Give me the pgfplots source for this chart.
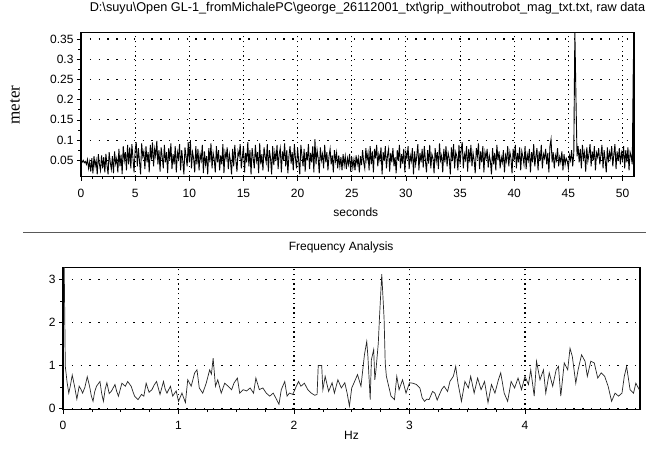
\documentclass[border=0pt]{standalone}
\usepackage{pgfplots}
\pgfplotsset{compat=1.18}
\usepackage{fontspec}
\setmainfont{Liberation Sans}
\newfontfamily\serifface{Liberation Serif}
\begin{document}
\begin{tikzpicture}
\path[use as bounding box] (0pt,0pt) rectangle (648pt,456pt);
\draw[gray!70!black, line width=0.8pt] (23pt,224pt) -- (646pt,224pt);
\pgfplotsset{
  every axis/.append style={
    scale only axis,
    axis line style={line width=1.2pt, black},
    tick align=outside, tick pos=left,
    major tick length=4pt, minor tick length=2.5pt,
    every tick/.style={black, line width=0.6pt},
    grid=major,
    x grid style={black, line width=1.1pt, dash pattern=on 1.3pt off 3.5pt},
    y grid style={black, line width=1.1pt, dash pattern=on 1.3pt off 7.5pt},
    /pgf/number format/assume math mode=true,
    tick label style={font=\fontsize{12pt}{14pt}\selectfont},
    every axis x label/.append style={font=\fontsize{12pt}{14pt}\selectfont},
  }
}
% ---------- top axis ----------
\begin{axis}[
  at={(81pt,279.3pt)}, anchor=south west,
  width=553pt, height=144.4pt,
  xmin=0, xmax=51.06, ymin=0.0094, ymax=0.3666,
  xtick={0,5,...,50}, minor x tick num=4,
  ytick={0.05,0.1,0.15,0.2,0.25,0.3,0.35}, minor y tick num=1,
  yticklabels={0.05,0.1,0.15,0.2,0.25,0.3,0.35},
  xticklabel style={yshift=-5pt},
  xlabel={seconds},
  xlabel style={at={(axis description cs:0.497,-0.244)}, anchor=center},
  title={D:\textbackslash suyu\textbackslash Open GL-1\_fromMichalePC\textbackslash george\_26112001\_txt\textbackslash grip\_withoutrobot\_mag\_txt.txt, raw data},
  title style={at={(axis description cs:0.518,1.127)}, anchor=center, font=\fontsize{12.7pt}{14pt}\selectfont},
]
\addplot[black, line width=0.9pt] coordinates {
(0.0,0.048)(0.1,0.045)(0.2,0.050)(0.3,0.044)(0.4,0.047)(0.5,0.040)(0.6,0.052)(0.7,0.030)(0.8,0.046)(0.9,0.022)
(1.0,0.055)(1.1,0.018)(1.2,0.060)(1.3,0.035)(1.4,0.050)(1.5,0.015)(1.6,0.065)(1.7,0.040)(1.8,0.025)(1.9,0.062)
(2.0,0.030)(2.1,0.058)(2.2,0.020)(2.3,0.066)(2.4,0.038)(2.5,0.015)(2.6,0.070)(2.7,0.045)(2.8,0.028)(2.9,0.060)
(3.0,0.018)(3.1,0.072)(3.2,0.042)(3.3,0.055)(3.4,0.020)(3.5,0.078)(3.6,0.035)(3.7,0.064)(3.8,0.016)(3.9,0.085)
(4.0,0.050)(4.1,0.070)(4.2,0.025)(4.3,0.088)(4.4,0.040)(4.5,0.082)(4.6,0.030)(4.7,0.090)(4.8,0.055)(4.9,0.020)
(5.0,0.075)(5.1,0.095)(5.2,0.035)(5.3,0.080)(5.4,0.048)(5.5,0.015)(5.6,0.092)(5.7,0.060)(5.8,0.072)(5.9,0.028)
(6.0,0.085)(6.1,0.045)(6.2,0.070)(6.3,0.020)(6.4,0.088)(6.5,0.052)(6.6,0.094)(6.7,0.035)(6.8,0.078)(6.9,0.060)
(7.0,0.098)(7.1,0.040)(7.2,0.075)(7.3,0.022)(7.4,0.082)(7.5,0.058)(7.6,0.030)(7.7,0.088)(7.8,0.045)(7.9,0.070)
(8.0,0.018)(8.1,0.080)(8.2,0.050)(8.3,0.092)(8.4,0.028)(8.5,0.065)(8.6,0.040)(8.7,0.085)(8.8,0.020)(8.9,0.070)
(9.0,0.055)(9.1,0.090)(9.2,0.025)(9.3,0.075)(9.4,0.048)(9.5,0.015)(9.6,0.082)(9.7,0.060)(9.8,0.035)(9.9,0.095)
(10.0,0.045)(10.1,0.100)(10.2,0.030)(10.3,0.070)(10.4,0.055)(10.5,0.020)(10.6,0.085)(10.7,0.040)(10.8,0.078)(10.9,0.025)
(11.0,0.065)(11.1,0.050)(11.2,0.088)(11.3,0.018)(11.4,0.072)(11.5,0.040)(11.6,0.060)(11.7,0.015)(11.8,0.080)(11.9,0.045)
(12.0,0.092)(12.1,0.030)(12.2,0.068)(12.3,0.052)(12.4,0.020)(12.5,0.085)(12.6,0.045)(12.7,0.075)(12.8,0.025)(12.9,0.062)
(13.0,0.040)(13.1,0.090)(13.2,0.018)(13.3,0.070)(13.4,0.055)(13.5,0.082)(13.6,0.028)(13.7,0.065)(13.8,0.048)(13.9,0.015)
(14.0,0.078)(14.1,0.035)(14.2,0.088)(14.3,0.050)(14.4,0.022)(14.5,0.072)(14.6,0.060)(14.7,0.090)(14.8,0.030)(14.9,0.058)
(15.0,0.085)(15.1,0.020)(15.2,0.068)(15.3,0.045)(15.4,0.095)(15.5,0.035)(15.6,0.075)(15.7,0.015)(15.8,0.080)(15.9,0.055)
(16.0,0.030)(16.1,0.088)(16.2,0.050)(16.3,0.070)(16.4,0.018)(16.5,0.092)(16.6,0.040)(16.7,0.065)(16.8,0.025)(16.9,0.082)
(17.0,0.060)(17.1,0.045)(17.2,0.090)(17.3,0.022)(17.4,0.075)(17.5,0.055)(17.6,0.015)(17.7,0.085)(17.8,0.038)(17.9,0.070)
(18.0,0.048)(18.1,0.088)(18.2,0.028)(18.3,0.065)(18.4,0.080)(18.5,0.020)(18.6,0.072)(18.7,0.050)(18.8,0.092)(18.9,0.035)
(19.0,0.075)(19.1,0.018)(19.2,0.060)(19.3,0.085)(19.4,0.042)(19.5,0.070)(19.6,0.025)(19.7,0.090)(19.8,0.055)(19.9,0.030)
(20.0,0.080)(20.1,0.048)(20.2,0.015)(20.3,0.088)(20.4,0.062)(20.5,0.035)(20.6,0.078)(20.7,0.022)(20.8,0.070)(20.9,0.050)
(21.0,0.090)(21.1,0.028)(21.2,0.068)(21.3,0.045)(21.4,0.085)(21.5,0.020)(21.6,0.102)(21.7,0.040)(21.8,0.075)(21.9,0.055)
(22.0,0.018)(22.1,0.082)(22.2,0.050)(22.3,0.065)(22.4,0.030)(22.5,0.088)(22.6,0.045)(22.7,0.070)(22.8,0.025)(22.9,0.060)
(23.0,0.078)(23.1,0.040)(23.2,0.062)(23.3,0.020)(23.4,0.075)(23.5,0.048)(23.6,0.068)(23.7,0.030)(23.8,0.062)(23.9,0.035)
(24.0,0.058)(24.1,0.025)(24.2,0.065)(24.3,0.038)(24.4,0.060)(24.5,0.028)(24.6,0.055)(24.7,0.040)(24.8,0.066)(24.9,0.022)
(25.0,0.058)(25.1,0.032)(25.2,0.052)(25.3,0.025)(25.4,0.062)(25.5,0.040)(25.6,0.056)(25.7,0.020)(25.8,0.060)(25.9,0.038)
(26.0,0.075)(26.1,0.045)(26.2,0.030)(26.3,0.080)(26.4,0.050)(26.5,0.068)(26.6,0.025)(26.7,0.085)(26.8,0.040)(26.9,0.072)
(27.0,0.020)(27.1,0.078)(27.2,0.055)(27.3,0.088)(27.4,0.035)(27.5,0.065)(27.6,0.050)(27.7,0.082)(27.8,0.015)(27.9,0.070)
(28.0,0.048)(28.1,0.085)(28.2,0.030)(28.3,0.062)(28.4,0.078)(28.5,0.022)(28.6,0.068)(28.7,0.045)(28.8,0.080)(28.9,0.035)
(29.0,0.058)(29.1,0.018)(29.2,0.075)(29.3,0.050)(29.4,0.088)(29.5,0.030)(29.6,0.065)(29.7,0.042)(29.8,0.078)(29.9,0.020)
(30.0,0.070)(30.1,0.055)(30.2,0.085)(30.3,0.028)(30.4,0.062)(30.5,0.048)(30.6,0.080)(30.7,0.015)(30.8,0.072)(30.9,0.040)
(31.0,0.060)(31.1,0.090)(31.2,0.025)(31.3,0.068)(31.4,0.045)(31.5,0.078)(31.6,0.032)(31.7,0.085)(31.8,0.050)(31.9,0.020)
(32.0,0.075)(32.1,0.042)(32.2,0.088)(32.3,0.030)(32.4,0.065)(32.5,0.055)(32.6,0.018)(32.7,0.080)(32.8,0.048)(32.9,0.070)
(33.0,0.028)(33.1,0.092)(33.2,0.050)(33.3,0.062)(33.4,0.020)(33.5,0.078)(33.6,0.045)(33.7,0.085)(33.8,0.035)(33.9,0.068)
(34.0,0.055)(34.1,0.015)(34.2,0.082)(34.3,0.048)(34.4,0.090)(34.5,0.030)(34.6,0.070)(34.7,0.060)(34.8,0.025)(34.9,0.088)
(35.0,0.040)(35.1,0.075)(35.2,0.095)(35.3,0.030)(35.4,0.065)(35.5,0.052)(35.6,0.085)(35.7,0.022)(35.8,0.078)(35.9,0.045)
(36.0,0.088)(36.1,0.035)(36.2,0.068)(36.3,0.050)(36.4,0.018)(36.5,0.080)(36.6,0.060)(36.7,0.092)(36.8,0.028)(36.9,0.072)
(37.0,0.045)(37.1,0.085)(37.2,0.020)(37.3,0.070)(37.4,0.055)(37.5,0.078)(37.6,0.032)(37.7,0.062)(37.8,0.048)(37.9,0.015)
(38.0,0.080)(38.1,0.040)(38.2,0.068)(38.3,0.025)(38.4,0.088)(38.5,0.050)(38.6,0.072)(38.7,0.030)(38.8,0.058)(38.9,0.045)
(39.0,0.075)(39.1,0.020)(39.2,0.062)(39.3,0.048)(39.4,0.085)(39.5,0.035)(39.6,0.070)(39.7,0.055)(39.8,0.018)(39.9,0.078)
(40.0,0.050)(40.1,0.088)(40.2,0.030)(40.3,0.068)(40.4,0.045)(40.5,0.082)(40.6,0.025)(40.7,0.072)(40.8,0.058)(40.9,0.040)
(41.0,0.085)(41.1,0.028)(41.2,0.065)(41.3,0.050)(41.4,0.078)(41.5,0.020)(41.6,0.070)(41.7,0.045)(41.8,0.090)(41.9,0.035)
(42.0,0.060)(42.1,0.080)(42.2,0.025)(42.3,0.072)(42.4,0.048)(42.5,0.088)(42.6,0.030)(42.7,0.065)(42.8,0.055)(42.9,0.078)
(43.0,0.040)(43.1,0.068)(43.2,0.020)(43.3,0.085)(43.4,0.102)(43.5,0.045)(43.6,0.070)(43.7,0.030)(43.8,0.062)(43.9,0.050)
(44.0,0.080)(44.1,0.035)(44.2,0.058)(44.3,0.045)(44.4,0.072)(44.5,0.025)(44.6,0.065)(44.7,0.040)(44.8,0.055)(44.9,0.048)
(45.0,0.030)(45.1,0.062)(45.2,0.050)(45.3,0.075)(45.4,0.035)(45.5,0.068)(45.6,0.370)(45.7,0.205)(45.8,0.060)(45.9,0.085)
(46.0,0.045)(46.1,0.078)(46.2,0.030)(46.3,0.088)(46.4,0.055)(46.5,0.070)(46.6,0.022)(46.7,0.082)(46.8,0.048)(46.9,0.065)
(47.0,0.090)(47.1,0.035)(47.2,0.072)(47.3,0.050)(47.4,0.085)(47.5,0.025)(47.6,0.068)(47.7,0.058)(47.8,0.080)(47.9,0.040)
(48.0,0.062)(48.1,0.088)(48.2,0.030)(48.3,0.075)(48.4,0.050)(48.5,0.020)(48.6,0.082)(48.7,0.045)(48.8,0.070)(48.9,0.055)
(49.0,0.085)(49.1,0.035)(49.2,0.065)(49.3,0.090)(49.4,0.028)(49.5,0.072)(49.6,0.048)(49.7,0.080)(49.8,0.040)(49.9,0.068)
(50.0,0.052)(50.1,0.085)(50.2,0.030)(50.3,0.075)(50.4,0.045)(50.5,0.082)(50.6,0.025)(50.7,0.070)(50.8,0.060)(50.9,0.040)
(51.0,0.300)
};
\end{axis}
\node[rotate=90, anchor=center, inner sep=0pt, font=\serifface\fontsize{17pt}{19pt}\selectfont] at (15pt,351pt) {meter};
% ---------- bottom axis ----------
\begin{axis}[
  at={(63pt,46.5pt)}, anchor=south west,
  width=577pt, height=141.8pt,
  xmin=0, xmax=4.996, ymin=-0.02, ymax=3.27,
  xtick={0,1,2,3,4}, minor x tick num=3,
  ytick={0,1,2,3}, minor y tick num=1,
  xticklabel style={yshift=-4pt},
  xlabel={Hz},
  xlabel style={at={(axis description cs:0.50,-0.18)}, anchor=center},
  title={Frequency Analysis},
  title style={at={(axis description cs:0.482,1.104)}, anchor=center, font=\fontsize{12pt}{14pt}\selectfont},
]
\addplot[black!85, line width=0.7pt] coordinates {
(0.0,3.40)(0.01,3.40)(0.02,0.98)(0.035,0.62)(0.05,0.36)(0.065,0.55)(0.08,0.78)(0.10,0.52)(0.12,0.22)(0.14,0.52)(0.155,0.45)(0.17,0.36)(0.19,0.50)(0.21,0.74)
(0.23,0.52)(0.245,0.30)(0.26,0.17)(0.275,0.40)(0.29,0.52)(0.32,0.63)(0.335,0.35)(0.35,0.17)(0.365,0.45)(0.38,0.60)(0.40,0.35)(0.42,0.41)(0.45,0.56)(0.465,0.40)(0.48,0.29)(0.51,0.59)
(0.54,0.52)(0.56,0.63)(0.59,0.52)(0.605,0.40)(0.62,0.29)(0.65,0.21)(0.68,0.33)(0.70,0.29)(0.72,0.59)(0.745,0.38)(0.77,0.44)(0.79,0.55)(0.81,0.63)
(0.84,0.33)(0.87,0.63)(0.885,0.45)(0.90,0.36)(0.93,0.52)(0.95,0.29)(0.98,0.41)(1.00,0.17)(1.03,0.36)(1.045,0.25)(1.06,0.14)(1.08,0.67)
(1.11,0.52)(1.14,0.83)(1.16,0.90)(1.18,0.48)(1.21,0.36)(1.24,0.59)(1.27,0.90)(1.285,0.80)(1.30,1.17)(1.32,0.52)(1.34,0.67)
(1.37,0.36)(1.40,0.59)(1.43,0.52)(1.46,0.44)(1.48,0.59)(1.51,0.71)(1.53,0.36)(1.56,0.44)(1.59,0.41)(1.62,0.48)
(1.65,0.36)(1.67,0.71)(1.70,0.44)(1.73,0.48)(1.76,0.36)(1.79,0.29)(1.82,0.36)(1.85,0.21)(1.87,0.10)(1.89,0.44)
(1.92,0.63)(1.94,0.29)(1.96,0.36)(1.99,0.33)(2.02,0.52)(2.04,0.63)(2.06,0.52)(2.09,0.59)(2.12,0.44)(2.15,0.36)
(2.18,0.31)(2.20,0.33)(2.21,1.00)(2.24,1.00)(2.25,0.44)(2.27,0.75)(2.30,0.40)(2.33,0.60)(2.35,0.36)(2.38,0.67)
(2.41,0.48)(2.44,0.60)(2.46,0.36)(2.48,0.06)(2.50,0.48)(2.52,0.60)(2.55,0.79)(2.58,0.52)(2.61,1.25)(2.63,1.56)
(2.64,1.21)(2.66,0.21)(2.67,1.13)(2.69,1.37)(2.70,0.67)(2.71,0.90)(2.73,1.52)(2.74,2.10)(2.76,3.12)(2.78,2.10)
(2.79,1.06)(2.80,0.75)(2.82,0.52)(2.84,0.29)(2.87,0.21)(2.89,0.75)(2.91,0.44)(2.94,0.67)(2.97,0.36)(3.00,0.60)
(3.03,0.59)(3.06,0.56)(3.09,0.48)(3.11,0.25)(3.13,0.17)(3.15,0.22)(3.17,0.21)(3.20,0.40)(3.22,0.36)(3.24,0.20)(3.26,0.33)(3.28,0.45)(3.30,0.52)
(3.33,0.40)(3.35,0.63)(3.38,0.75)(3.40,0.98)(3.42,0.59)(3.45,0.17)(3.48,0.63)(3.51,0.48)(3.53,0.75)(3.56,0.36)(3.59,0.71)
(3.62,0.44)(3.65,0.63)(3.68,0.14)(3.71,0.56)(3.74,0.36)(3.77,0.67)(3.79,0.83)(3.82,0.36)(3.85,0.17)(3.88,0.63)
(3.91,0.48)(3.94,0.71)(3.97,0.44)(4.00,0.75)(4.03,0.56)(4.05,0.90)(4.08,0.29)(4.10,1.10)(4.13,0.67)(4.16,0.90)
(4.18,0.36)(4.21,0.83)(4.24,0.52)(4.27,0.90)(4.29,0.98)(4.31,0.29)(4.34,1.06)(4.37,0.90)(4.39,1.40)(4.41,1.21)
(4.44,0.59)(4.46,0.90)(4.49,1.25)(4.52,1.10)(4.54,0.75)(4.57,1.10)(4.60,1.06)(4.63,0.71)(4.66,0.83)(4.69,0.75)
(4.72,0.52)(4.75,0.17)(4.78,0.36)(4.81,0.29)(4.84,0.36)(4.86,0.75)(4.88,0.98)(4.91,0.44)(4.94,0.36)(4.96,0.59)
(4.99,0.44)
};
\end{axis}
\end{tikzpicture}
\end{document}
